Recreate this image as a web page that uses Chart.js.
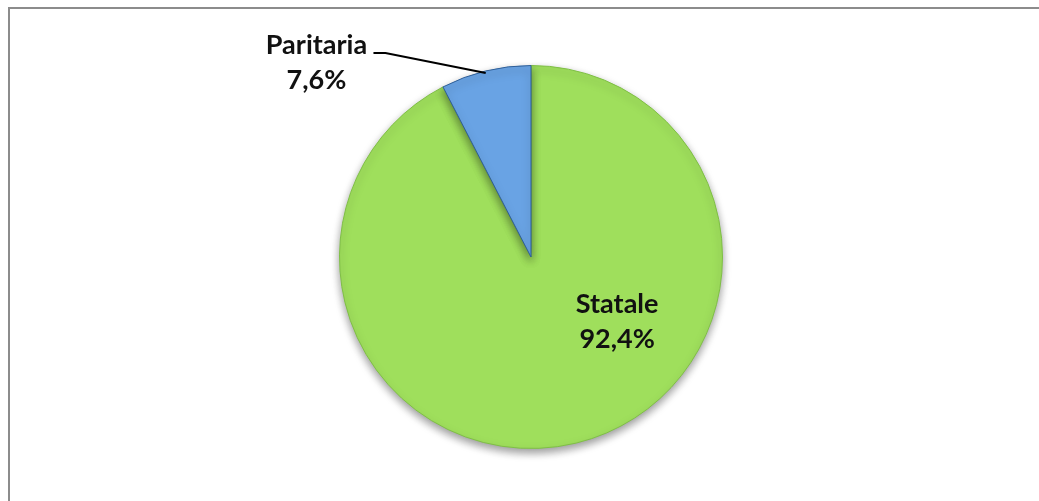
<!DOCTYPE html>
<html>
<head>
<meta charset="utf-8">
<script src="https://cdn.jsdelivr.net/npm/chart.js@4.4.1/dist/chart.umd.min.js"></script>
<style>
  html, body { margin: 0; padding: 0; background: #fff; }
  #wrap { position: relative; width: 1039px; height: 501px; overflow: hidden; }
  #frame {
    position: absolute; left: 8px; top: 7px; width: 1100px; height: 600px;
    border-left: 2px solid #8c8c8c; border-top: 2px solid #8c8c8c;
  }
  #chartBox { position: absolute; left: 0; top: 0; width: 1039px; height: 501px; }
</style>
</head>
<body>
<div id="wrap">
  <div id="frame"></div>
  <div id="chartBox"><canvas id="pieChart"></canvas></div>
</div>
<script>
  var labels = ["Statale", "Paritaria"];
  var values = [92.4, 7.6];
  var valueText = ["92,4%", "7,6%"];
  var colors = ["#9fdf5c", "#69a3e4"];
  var edgeColors = ["#7fbf45", "#2f5f98"];

  // soft drop shadow under the pie, like the office chart
  var shadowPlugin = {
    id: "pieShadow",
    beforeDatasetsDraw: function (chart) {
      var ctx = chart.ctx;
      ctx.save();
      ctx.shadowColor = "rgba(0,0,0,0.4)";
      ctx.shadowBlur = 8;
      ctx.shadowOffsetY = 4;
    },
    afterDatasetsDraw: function (chart) {
      chart.ctx.restore();
    }
  };

  // data labels: Statale inside, Paritaria outside with leader line
  var labelPlugin = {
    id: "pieLabels",
    afterDraw: function (chart) {
      var ctx = chart.ctx;
      var meta = chart.getDatasetMeta(0);
      var statale = meta.data[0];
      var paritaria = meta.data[1];
      var cx = statale.x, cy = statale.y, r = statale.outerRadius;

      ctx.save();
      ctx.fillStyle = "#111";
      ctx.font = "bold 27px Lato";
      ctx.textAlign = "center";
      ctx.textBaseline = "alphabetic";
      ctx.fillText(labels[0], cx + r * 0.45, cy + r * 0.29);
      ctx.fillText(valueText[0], cx + r * 0.45, cy + r * 0.29 + 35);

      // leader line from middle of the Paritaria arc
      var mid = (paritaria.startAngle + paritaria.endAngle) / 2;
      var ex = cx + Math.cos(mid) * r;
      var ey = cy + Math.sin(mid) * r;
      var kx = cx - r * 0.76, ky = cy - r * 1.065;
      ctx.strokeStyle = "#000";
      ctx.lineWidth = 2;
      ctx.beginPath();
      ctx.moveTo(ex, ey + 2);
      ctx.lineTo(kx, ky);
      ctx.lineTo(kx - 12, ky);
      ctx.stroke();

      ctx.fillText(labels[1], kx - 69, ky + 1);
      ctx.fillText(valueText[1], kx - 69, ky + 36);
      ctx.restore();
    }
  };

  var ctx = document.getElementById("pieChart").getContext("2d");
  var myChart = new Chart(ctx, {
    type: "pie",
    data: {
      labels: labels,
      datasets: [
        {
          data: values,
          backgroundColor: colors,
          borderColor: edgeColors,
          borderWidth: 1
        }
      ]
    },
    options: {
      responsive: true,
      maintainAspectRatio: false,
      animation: false,
      layout: { padding: { top: 65, bottom: 52, left: 23, right: 0 } },
      plugins: {
        legend: { display: false },
        tooltip: { enabled: false }
      }
    },
    plugins: [shadowPlugin, labelPlugin]
  });
</script>
</body>
</html>
